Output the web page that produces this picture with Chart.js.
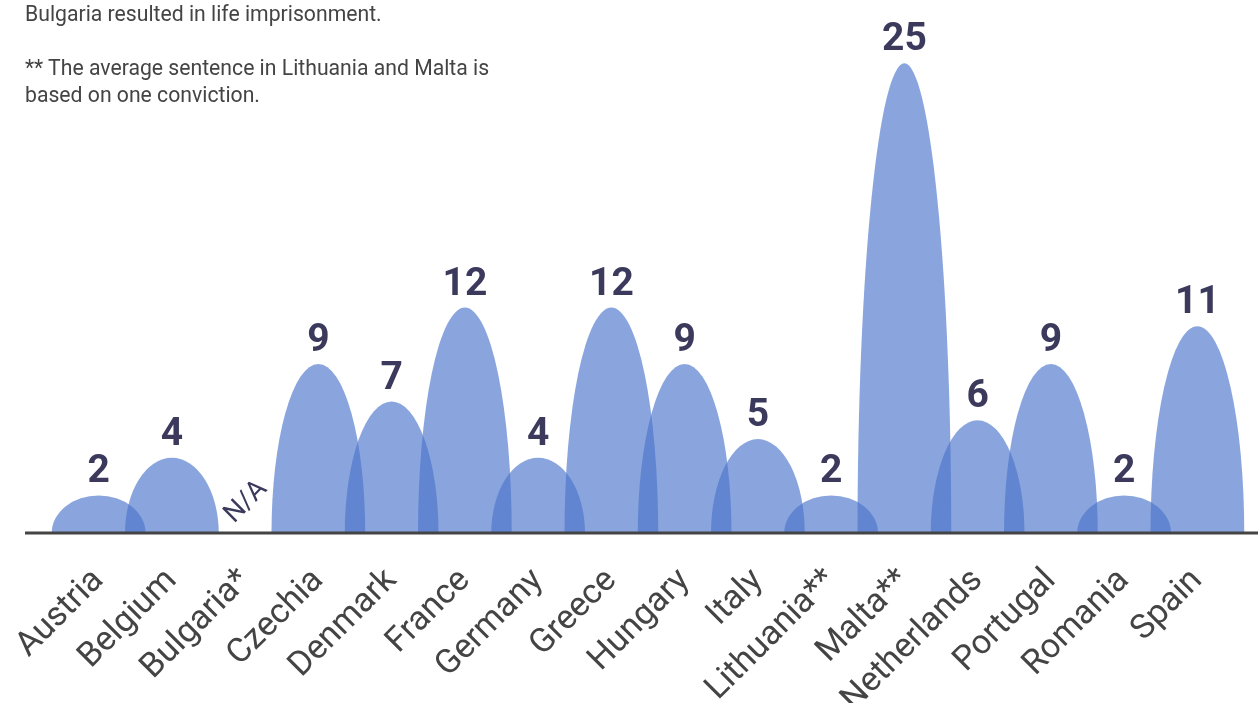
<!DOCTYPE html>
<html>
<head>
<meta charset="utf-8">
<script src="https://cdn.jsdelivr.net/npm/chart.js@4"></script>
<style>
    html, body { margin: 0; padding: 0; background: #fff; }
    #wrap { position: relative; width: 1258px; height: 703px; }
    #notes {
        position: absolute; left: 25px; top: -27px;
        font-family: Roboto, sans-serif; font-size: 21.2px; line-height: 27px;
        color: #444; margin: 0;
    }
    #notes p { margin: 0 0 27px 0; }
</style>
</head>
<body>
<div id="wrap">
    <canvas id="sentenceChart" width="1258" height="703"></canvas>
    <div id="notes">
        <p>* The single conviction recorded in<br>Bulgaria resulted in life imprisonment.</p>
        <p>** The average sentence in Lithuania and Malta is<br>based on one conviction.</p>
    </div>
</div>
<script>
const countries = ['Austria', 'Belgium', 'Bulgaria*', 'Czechia', 'Denmark', 'France', 'Germany', 'Greece',
    'Hungary', 'Italy', 'Lithuania**', 'Malta**', 'Netherlands', 'Portugal', 'Romania', 'Spain'];
const avgYears = [2, 4, null, 9, 7, 12, 4, 12, 9, 5, 2, 25, 6, 9, 2, 11];
const missingText = 'N/A';

const domePlugin = {
    id: 'domes',
    afterDatasetsDraw(chart) {
        const ctx = chart.ctx;
        const xs = chart.scales.x;
        const ys = chart.scales.y;
        const meta = chart.getDatasetMeta(0);
        const base = ys.getPixelForValue(0);
        const halfW = (xs.width / countries.length) * 0.64;

        ctx.save();
        meta.data.forEach((bar, i) => {
            const v = avgYears[i];
            const cx = xs.getPixelForValue(i);
            if (v === null) return;
            const top = ys.getPixelForValue(v);
            ctx.beginPath();
            ctx.ellipse(cx, base, halfW, base - top, 0, Math.PI, 2 * Math.PI);
            ctx.closePath();
            ctx.fillStyle = 'rgba(75, 117, 203, 0.65)';
            ctx.fill();
        });

        // baseline
        ctx.beginPath();
        ctx.moveTo(25, base);
        ctx.lineTo(chart.width, base);
        ctx.lineWidth = 3;
        ctx.strokeStyle = '#444';
        ctx.stroke();

        // value labels
        ctx.fillStyle = '#3b3a5c';
        ctx.textAlign = 'center';
        ctx.textBaseline = 'alphabetic';
        avgYears.forEach((v, i) => {
            const cx = xs.getPixelForValue(i);
            if (v === null) {
                ctx.save();
                ctx.translate(cx + 1, base - 31);
                ctx.rotate(-Math.PI / 4);
                ctx.font = '27px Roboto';
                ctx.textBaseline = 'middle';
                ctx.fillText(missingText, 0, 0);
                ctx.restore();
                return;
            }
            ctx.font = 'bold 39px Roboto';
            ctx.fillText(String(v), cx, ys.getPixelForValue(v) - 13);
        });
        ctx.restore();
    }
};

new Chart(document.getElementById('sentenceChart').getContext('2d'), {
    type: 'bar',
    data: {
        labels: countries,
        datasets: [{
            data: avgYears,
            backgroundColor: 'rgba(0,0,0,0)'
        }]
    },
    options: {
        responsive: false,
        animation: false,
        layout: { padding: { left: 62, right: 24, top: 7 } },
        plugins: {
            legend: { display: false },
            tooltip: { enabled: false }
        },
        scales: {
            x: {
                grid: { display: false },
                border: { display: false },
                ticks: {
                    color: '#444',
                    font: { family: 'Roboto', size: 34 },
                    minRotation: 45,
                    maxRotation: 45,
                    padding: 20,
                    autoSkip: false
                },
                afterFit(scale) { scale.height = 170; }
            },
            y: {
                display: false,
                min: 0,
                max: 28
            }
        }
    },
    plugins: [domePlugin]
});
</script>
</body>
</html>
